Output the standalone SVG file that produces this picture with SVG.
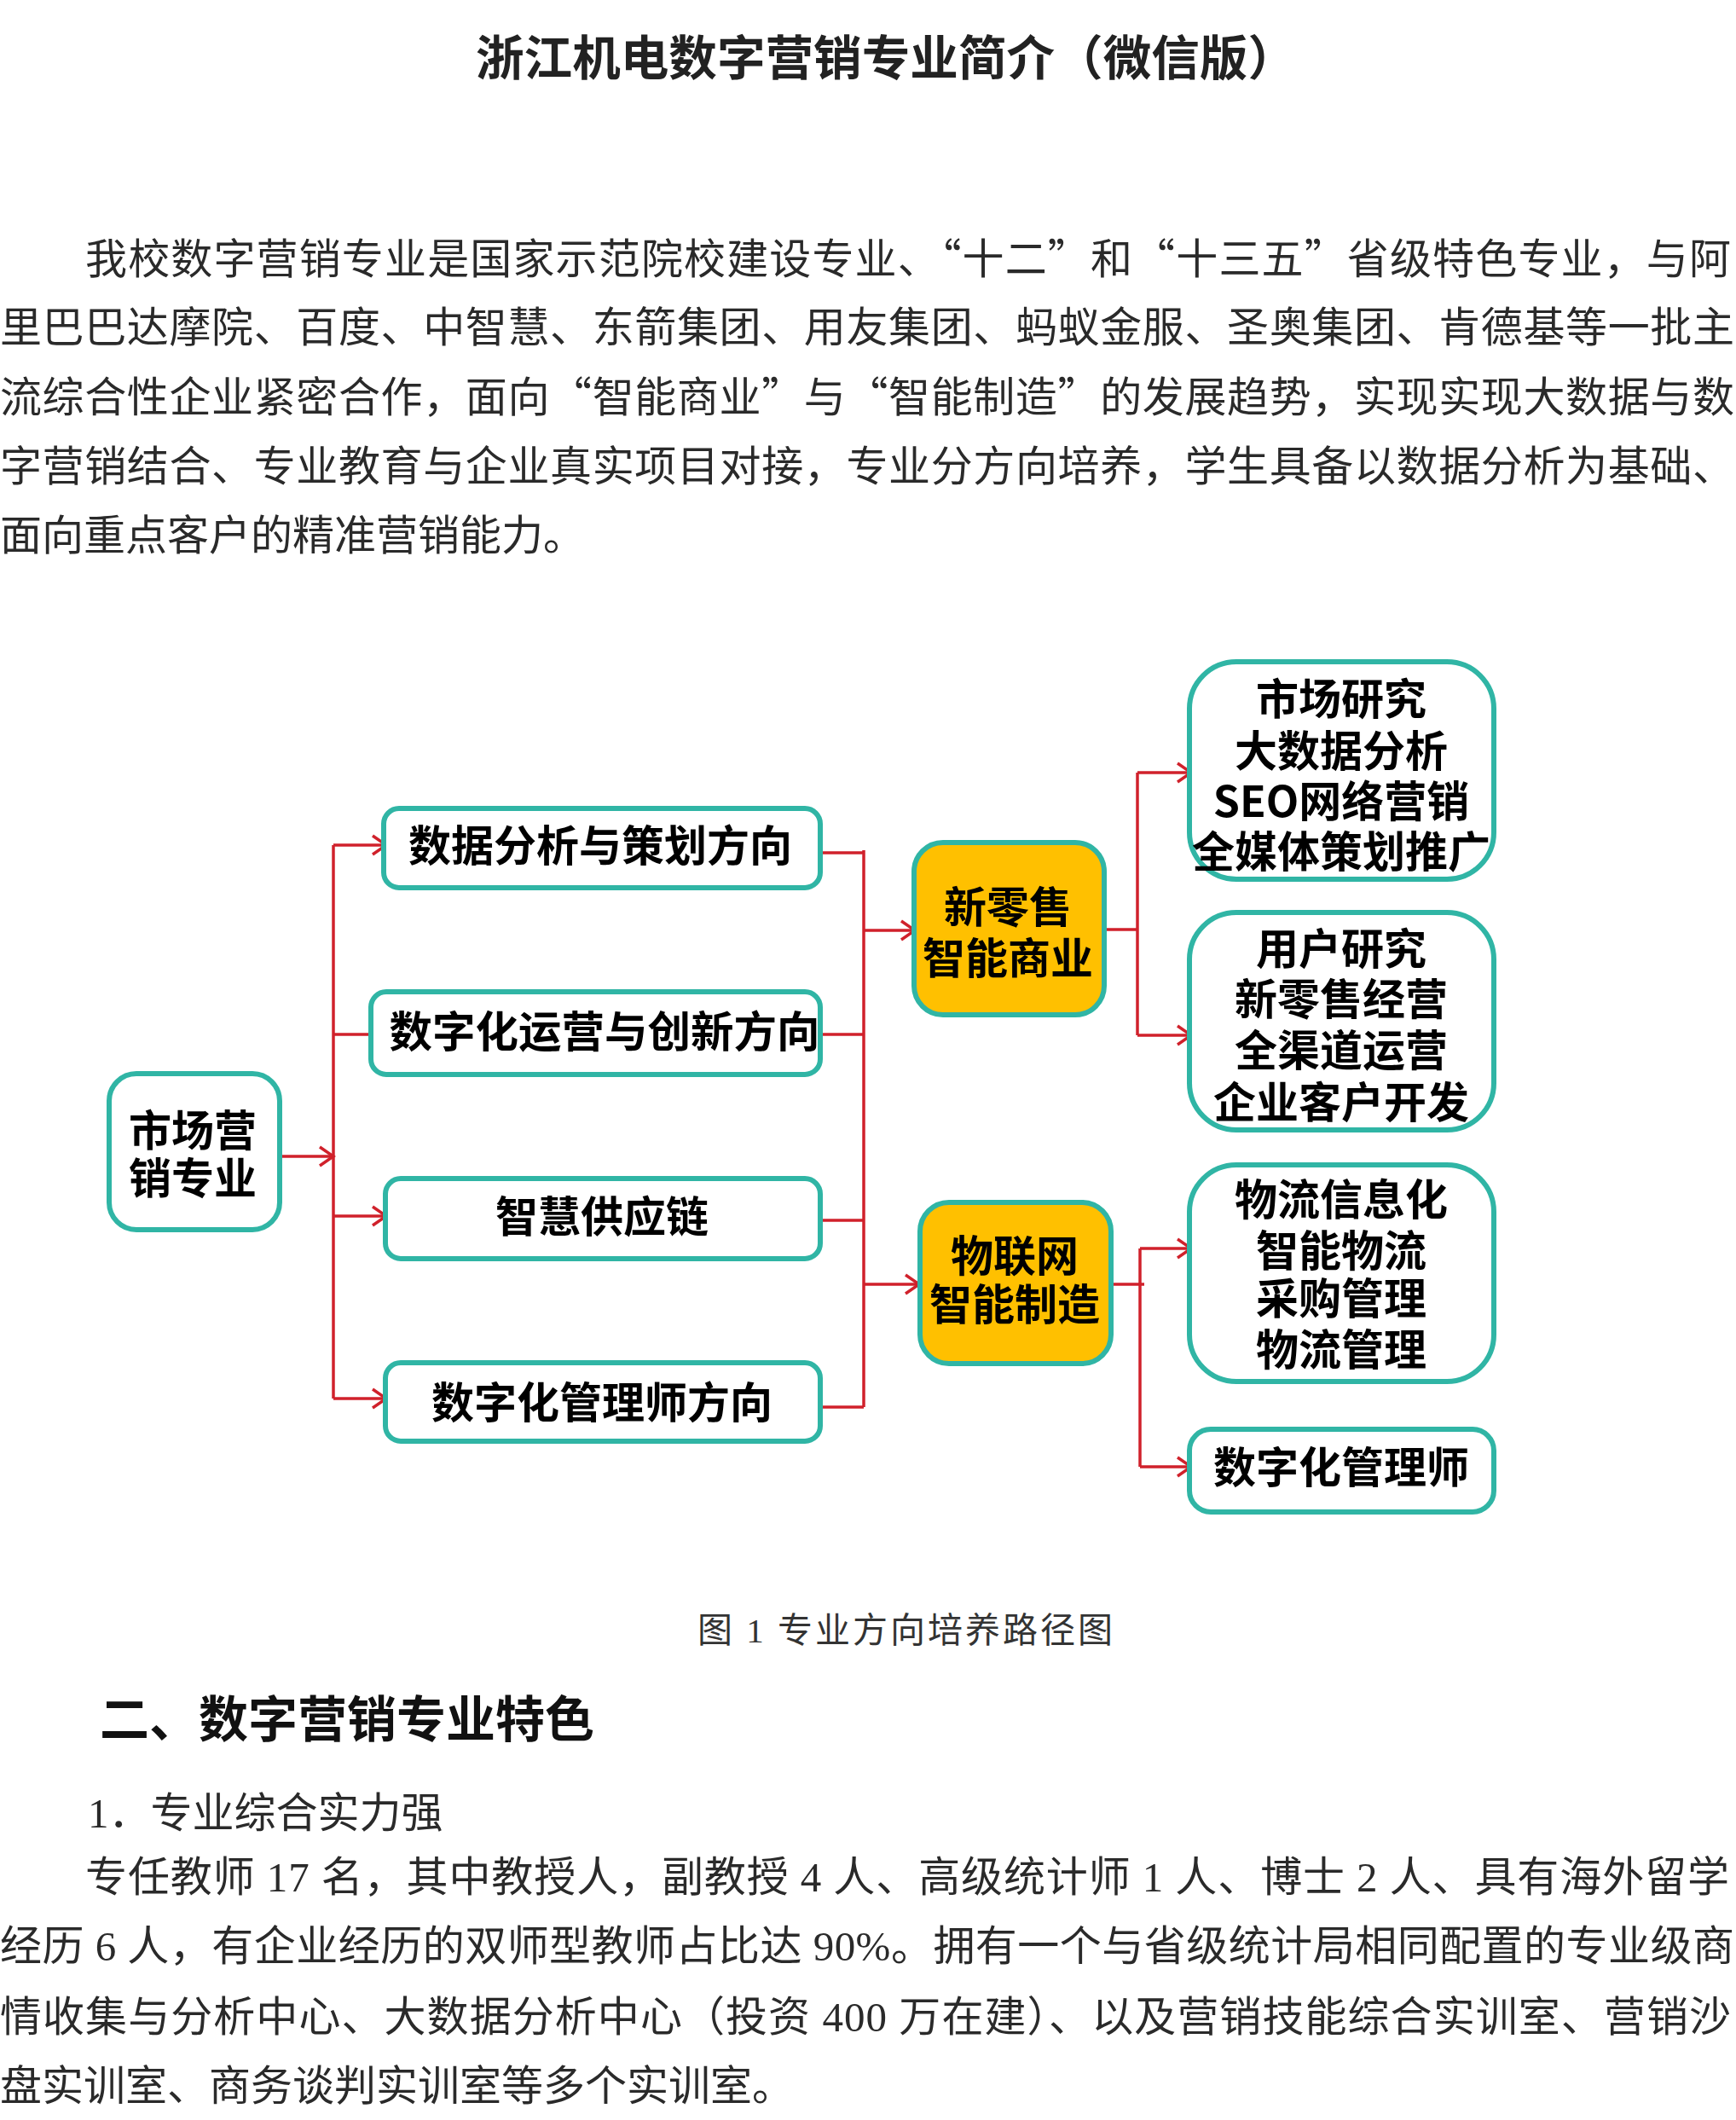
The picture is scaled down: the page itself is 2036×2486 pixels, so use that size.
<svg xmlns="http://www.w3.org/2000/svg" width="2036" height="2486" viewBox="0 0 2036 2486">
<style>
.body{font-family:"Liberation Serif","Noto Sans CJK SC",serif;font-size:49px;fill:#2a2a2a;}
.cjk{font-family:"Noto Sans CJK SC","Liberation Serif",sans-serif;}
.title{font-family:"Liberation Serif","Noto Sans CJK SC",serif;font-size:56px;font-weight:700;fill:#222;}
.h2{font-family:"Liberation Serif","Noto Sans CJK SC",serif;font-size:58px;font-weight:700;fill:#111;}
.cap{font-family:"Liberation Serif","Noto Sans CJK SC",serif;font-size:41px;fill:#333;}
.box{fill:#ffffff;stroke:#30b5a5;stroke-width:6;}
.hub{fill:#FFC000;stroke:#30b5a5;stroke-width:6;}
.lbl{font-family:"Noto Sans CJK SC","Liberation Sans",sans-serif;font-size:50px;font-weight:700;fill:#000;text-anchor:middle;}
.con{fill:none;stroke:#d0212b;stroke-width:3.5;}
.arr{fill:none;stroke:#d0212b;stroke-width:3.5;marker-end:url(#chev);}
</style>
<defs>
<marker id="chev" markerUnits="userSpaceOnUse" markerWidth="22" markerHeight="28" viewBox="0 0 22 28" refX="19" refY="14" orient="auto">
<path d="M3,3 L19,14 L3,25" fill="none" stroke="#d0212b" stroke-width="3.5"/>
</marker>
</defs>
<rect width="2036" height="2486" fill="#ffffff"/>

<text class="title" x="558" y="88" textLength="962" lengthAdjust="spacingAndGlyphs">浙江机电数字营销专业简介（微信版）</text>

<g id="para1">
<text class="body" x="100" y="321" textLength="1930" lengthAdjust="spacing">我校数字营销专业是国家示范院校建设专业、<tspan class="cjk">“十二”和“十三五”</tspan>省级特色专业，与阿</text>
<text class="body" x="0" y="401" textLength="2034" lengthAdjust="spacing">里巴巴达摩院、百度、中智慧、东箭集团、用友集团、蚂蚁金服、圣奥集团、肯德基等一批主</text>
<text class="body" x="0" y="483" textLength="2034" lengthAdjust="spacing">流综合性企业紧密合作，面向<tspan class="cjk">“智能商业”与“智能制造”</tspan>的发展趋势，实现实现大数据与数</text>
<text class="body" x="0" y="564" textLength="2034" lengthAdjust="spacing">字营销结合、专业教育与企业真实项目对接，专业分方向培养，学生具备以数据分析为基础、</text>
<text class="body" x="0" y="645">面向重点客户的精准营销能力。</text>
</g>

<g id="connectors">
<path class="arr" d="M330,1356 H391"/>
<path class="con" d="M391,991 V1640"/>
<path class="arr" d="M391,991 H453"/>
<path class="arr" d="M391,1213 H452"/>
<path class="arr" d="M391,1426 H453"/>
<path class="arr" d="M391,1640 H453"/>
<path class="con" d="M962,1000 H1013"/>
<path class="con" d="M962,1213 H1013"/>
<path class="con" d="M962,1431 H1013"/>
<path class="con" d="M962,1650 H1013"/>
<path class="con" d="M1013,997 V1650"/>
<path class="arr" d="M1013,1091 H1073"/>
<path class="arr" d="M1013,1506 H1078"/>
<path class="con" d="M1295,1090 H1334"/>
<path class="con" d="M1334,906 V1214"/>
<path class="arr" d="M1334,906 H1397"/>
<path class="arr" d="M1334,1214 H1397"/>
<path class="con" d="M1303,1506 H1342"/>
<path class="con" d="M1337,1464 V1720"/>
<path class="arr" d="M1337,1464 H1397"/>
<path class="arr" d="M1337,1720 H1397"/>
</g>

<g id="node-major">
<rect class="box" x="128" y="1259" width="200" height="183" rx="32"/>
<text class="lbl"><tspan x="226" y="1344">市场营</tspan><tspan x="226" y="1400">销专业</tspan></text>
</g>
<g id="node-data">
<rect class="box" x="450" y="948" width="512" height="93" rx="18"/>
<text class="lbl" x="704" y="1010">数据分析与策划方向</text>
</g>
<g id="node-ops">
<rect class="box" x="435" y="1163" width="527" height="97" rx="18"/>
<text class="lbl" x="709" y="1228" textLength="505" lengthAdjust="spacingAndGlyphs">数字化运营与创新方向</text>
</g>
<g id="node-supply">
<rect class="box" x="452" y="1382" width="510" height="94" rx="18"/>
<text class="lbl" x="706" y="1445">智慧供应链</text>
</g>
<g id="node-mgr">
<rect class="box" x="452" y="1598" width="510" height="92" rx="18"/>
<text class="lbl" x="706" y="1663">数字化管理师方向</text>
</g>
<g id="node-retail">
<rect class="hub" x="1072" y="988" width="223" height="202" rx="34"/>
<text class="lbl"><tspan x="1182" y="1082">新零售</tspan><tspan x="1182" y="1142">智能商业</tspan></text>
</g>
<g id="node-iot">
<rect class="hub" x="1079" y="1410" width="224" height="189" rx="34"/>
<text class="lbl"><tspan x="1190" y="1491">物联网</tspan><tspan x="1190" y="1548">智能制造</tspan></text>
</g>
<g id="node-market">
<rect class="box" x="1395" y="776" width="357" height="255" rx="55"/>
<text class="lbl"><tspan x="1573" y="838">市场研究</tspan><tspan x="1573" y="899">大数据分析</tspan><tspan x="1573" y="958">SEO网络营销</tspan><tspan x="1573" y="1017">全媒体策划推广</tspan></text>
</g>
<g id="node-user">
<rect class="box" x="1395" y="1070" width="357" height="255" rx="55"/>
<text class="lbl"><tspan x="1573" y="1131">用户研究</tspan><tspan x="1573" y="1190">新零售经营</tspan><tspan x="1573" y="1250">全渠道运营</tspan><tspan x="1573" y="1311">企业客户开发</tspan></text>
</g>
<g id="node-logistics">
<rect class="box" x="1395" y="1366" width="357" height="254" rx="55"/>
<text class="lbl"><tspan x="1573" y="1425">物流信息化</tspan><tspan x="1573" y="1485">智能物流</tspan><tspan x="1573" y="1541">采购管理</tspan><tspan x="1573" y="1601">物流管理</tspan></text>
</g>
<g id="node-digmgr">
<rect class="box" x="1395" y="1676" width="357" height="97" rx="25"/>
<text class="lbl" x="1573" y="1739">数字化管理师</text>
</g>

<text class="cap" x="818" y="1926" textLength="487" lengthAdjust="spacing">图 1  专业方向培养路径图</text>

<text class="h2" x="117" y="2037">二、数字营销专业特色</text>

<g id="para2">
<text class="body" x="103" y="2143">1．专业综合实力强</text>
<text class="body" x="100" y="2218" textLength="1928" lengthAdjust="spacing">专任教师 17 名，其中教授人，副教授 4 人、高级统计师 1 人、博士 2 人、具有海外留学</text>
<text class="body" x="0" y="2299" textLength="2034" lengthAdjust="spacing">经历 6 人，有企业经历的双师型教师占比达 90%。拥有一个与省级统计局相同配置的专业级商</text>
<text class="body" x="0" y="2382" textLength="2030" lengthAdjust="spacing">情收集与分析中心、大数据分析中心（投资 400 万在建）、以及营销技能综合实训室、营销沙</text>
<text class="body" x="0" y="2463">盘实训室、商务谈判实训室等多个实训室。</text>
</g>
</svg>
